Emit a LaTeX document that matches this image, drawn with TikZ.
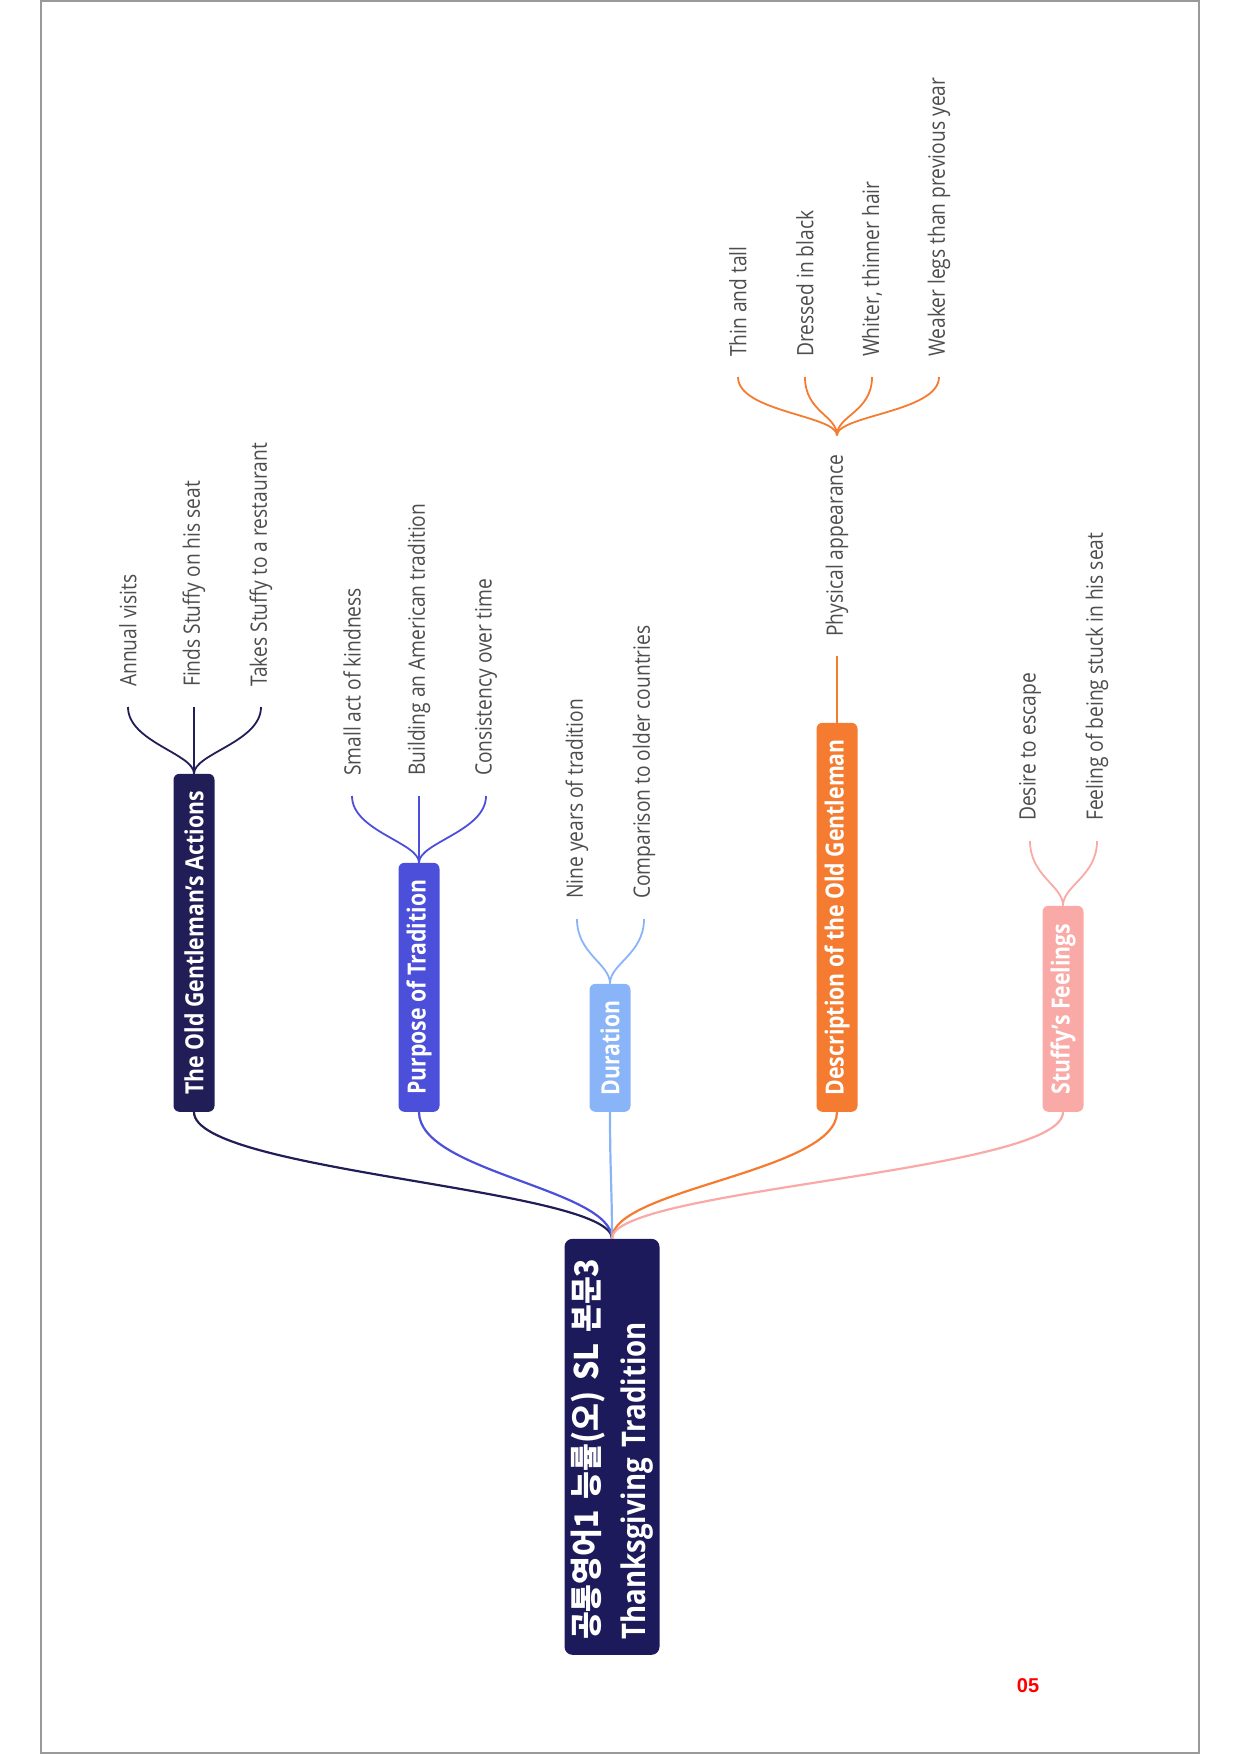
\documentclass[tikz,border=0pt]{standalone}
\usepackage{fontspec}
\setmainfont{Open Sans}[FakeStretch=0.85]
\newfontfamily\krfont{Noto Sans CJK KR}[FakeStretch=0.93]
\newfontfamily\numfont{Liberation Sans}
\usetikzlibrary{calc}
\definecolor{cRoot}{HTML}{1D1A5B}
\definecolor{cGa}{HTML}{211D57}
\definecolor{cGb}{HTML}{4B4FD9}
\definecolor{cGc}{HTML}{8AB4F8}
\definecolor{cGd}{HTML}{F47B30}
\definecolor{cGe}{HTML}{F9A9A6}
\definecolor{cText}{HTML}{4D4D4D}
\definecolor{cFrame}{HTML}{9A9A9A}
\tikzset{
  lvlone/.style={rotate=90, anchor=west, minimum height=41pt, inner xsep=0pt, inner ysep=0pt,
    rounded corners=6pt, text=white, font=\fontsize{25}{29}\selectfont\bfseries},
  leaf/.style={rotate=90, anchor=west, inner xsep=20pt, inner ysep=0pt, text=cText,
    font=\fontsize{22.6}{26}\selectfont},
  conone/.style={line width=2.2pt},
  contwo/.style={line width=1.8pt},
}
\begin{document}
\begin{tikzpicture}[x=1pt,y=-1pt]
\useasboundingbox (0,0) rectangle (1240,1754);
\draw[cFrame, line width=1.2pt] (41,1) rectangle (1199,1753);

% root
\node[rotate=90, anchor=west, fill=cRoot, rounded corners=8pt, text width=386pt, align=left,
  minimum height=95pt, inner xsep=15pt, inner ysep=0pt, text=white,
  font=\fontsize{32.5}{47}\selectfont\bfseries] (root) at (612,1655)
  {\mbox{\krfont\bfseries 공통영어1 능률(오) SL 본문3}\\\mbox{Thanksgiving Tradition}};

% level one
\node[lvlone, fill=cGa, minimum width=338pt] (b1) at (194,1112) {The Old Gentleman's Actions};
\node[lvlone, fill=cGb, minimum width=249pt] (b2) at (419,1112) {Purpose of Tradition};
\node[lvlone, fill=cGc, minimum width=128pt] (b3) at (610,1112) {Duration};
\node[lvlone, fill=cGd, minimum width=389pt] (b4) at (837,1112) {Description of the Old Gentleman};
\node[lvlone, fill=cGe, minimum width=206pt] (b5) at (1063,1112) {Stuffy's Feelings};

\draw[conone, cGa] (root.east) .. controls +(0,-50) and +(0,60) .. (b1.west);
\draw[conone, cGb] (root.east) .. controls +(0,-50) and +(0,60) .. (b2.west);
\draw[conone, cGc] (root.east) .. controls +(0,-50) and +(0,60) .. (b3.west);
\draw[conone, cGd] (root.east) .. controls +(0,-50) and +(0,60) .. (b4.west);
\draw[conone, cGe] (root.east) .. controls +(0,-50) and +(0,60) .. (b5.west);

% leaves group 1
\node[leaf] (c11) at (128,707) {Annual visits};
\node[leaf] (c12) at (194,707) {Finds Stuffy on his seat};
\node[leaf] (c13) at (261,707) {Takes Stuffy to a restaurant};
\foreach \n in {c11,c12,c13}
  \draw[contwo, cGa] (b1.east) .. controls +(0,-20) and +(0,35) .. (\n.west);

% group 2
\node[leaf] (c21) at (352,796) {Small act of kindness};
\node[leaf] (c22) at (419,796) {Building an American tradition};
\node[leaf] (c23) at (486,796) {Consistency over time};
\foreach \n in {c21,c22,c23}
  \draw[contwo, cGb] (b2.east) .. controls +(0,-20) and +(0,35) .. (\n.west);

% group 3
\node[leaf] (c31) at (577,919) {Nine years of tradition};
\node[leaf] (c32) at (644,919) {Comparison to older countries};
\foreach \n in {c31,c32}
  \draw[contwo, cGc] (b3.east) .. controls +(0,-20) and +(0,35) .. (\n.west);

% group 4
\node[leaf, inner xsep=19pt] (pa) at (837,656) {Physical appearance};
\draw[contwo, cGd] (b4.east) -- (pa.west);
\node[leaf] (c41) at (738,377) {Thin and tall};
\node[leaf] (c42) at (805,377) {Dressed in black};
\node[leaf] (c43) at (872,377) {Whiter, thinner hair};
\node[leaf] (c44) at (939,377) {Weaker legs than previous year};
\foreach \n in {c41,c42,c43,c44}
  \draw[contwo, cGd] (pa.east) .. controls +(0,-20) and +(0,35) .. (\n.west);

% group 5
\node[leaf] (c51) at (1030,841) {Desire to escape};
\node[leaf] (c52) at (1097,841) {Feeling of being stuck in his seat};
\foreach \n in {c51,c52}
  \draw[contwo, cGe] (b5.east) .. controls +(0,-20) and +(0,35) .. (\n.west);

% page number
\node[text=red, font=\numfont\bfseries\fontsize{20}{24}\selectfont] (pg) at (1028,1686) {05};
\end{tikzpicture}
\end{document}
